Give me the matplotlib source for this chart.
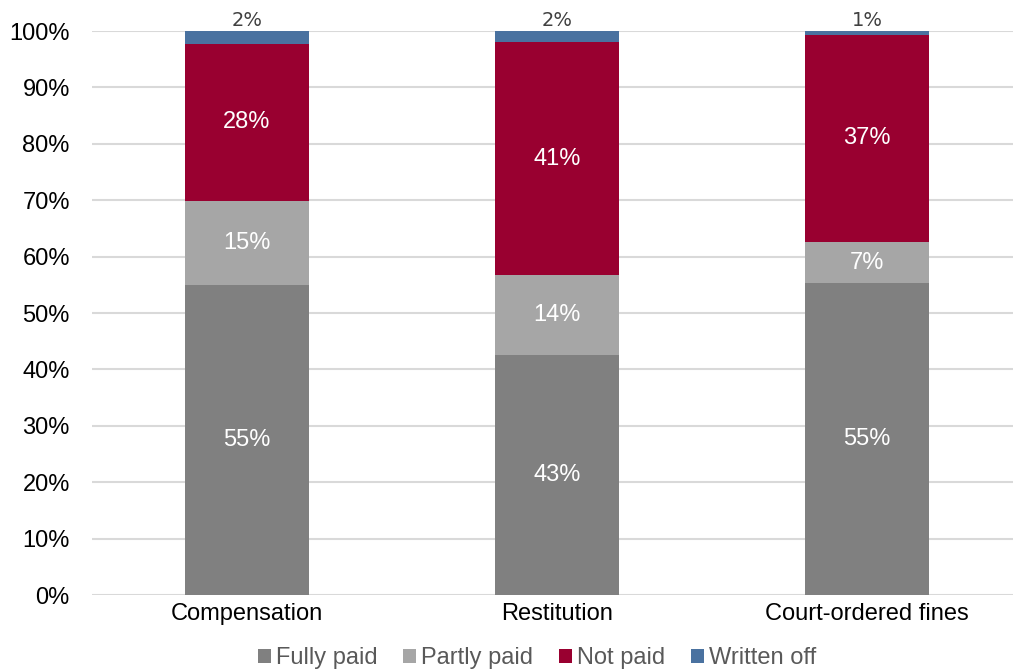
import numpy as np
import matplotlib
matplotlib.use("Agg")
import matplotlib.pyplot as plt

plt.rcParams['font.family'] = ['Liberation Sans', 'DejaVu Sans']

# Dati
categorie = ["Compensation", "Restitution", "Court-ordered fines"]
fully_paid = [55.0, 42.6, 55.3]
partly_paid = [14.9, 14.1, 7.3]
not_paid = [27.8, 41.3, 36.7]
written_off = [2.3, 2.0, 0.7]

serie = ["Fully paid", "Partly paid", "Not paid", "Written off"]
valori = [fully_paid, partly_paid, not_paid, written_off]
colori = ["#808080", "#a6a6a6", "#990030", "#4a72a0"]

W, H = 1013, 670
fig = plt.figure(figsize=(W / 100, H / 100), dpi=100)
ax = fig.add_axes([92 / W, (H - 595) / H, 930 / W, 564 / H])

x = np.arange(len(categorie))
base = np.zeros(len(categorie))
for nome, v, c in zip(serie, valori, colori):
    v = np.array(v)
    ax.bar(x, v, 0.4, bottom=base, color=c, label=nome, zorder=2)
    for xi, b, vi in zip(x, base, v):
        if nome == "Written off":
            ax.text(xi, 100.2, f"{vi:.0f}%", ha="center", va="bottom",
                    fontsize=14, color="#404040", family="DejaVu Sans")
        else:
            ax.text(xi, b + vi / 2, f"{vi:.0f}%", ha="center", va="center",
                    fontsize=17, color="white")
    base = base + v

ax.set_xlim(-0.5, 2.5)
ax.set_ylim(0, 100)
ax.set_yticks(np.arange(0, 101, 10))
ax.set_yticklabels([f"{t}%" for t in range(0, 101, 10)])
ax.set_xticks(x)
ax.set_xticklabels(categorie)
ax.tick_params(length=0, labelsize=17, colors="black")
ax.tick_params(axis="y", pad=16)
ax.tick_params(axis="x", pad=6)
ax.grid(axis="y", color="#d9d9d9", linewidth=1.5, zorder=0)
for s in ax.spines.values():
    s.set_visible(False)

leg = fig.legend(loc="center", bbox_to_anchor=(537 / W, 1 - 658 / H), ncol=4,
                 frameon=False, fontsize=17, handlelength=0.55, handleheight=0.55,
                 handletextpad=0.2, columnspacing=1.1)
for t in leg.get_texts():
    t.set_color("#595959")

fig.savefig("out.png", dpi=100)
